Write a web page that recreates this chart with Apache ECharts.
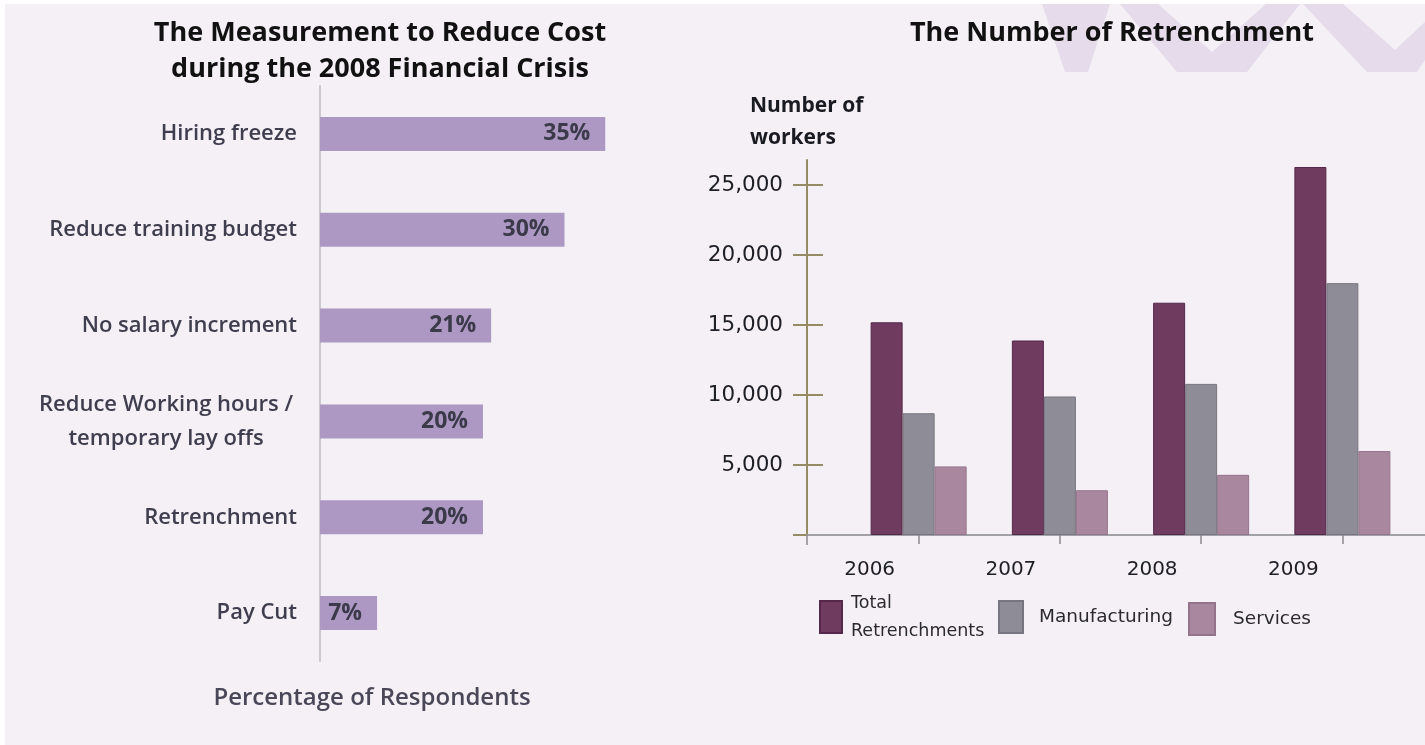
<!DOCTYPE html>
<html>
<head>
<meta charset="utf-8">
<script src="https://cdn.jsdelivr.net/npm/echarts@6/dist/echarts.min.js"></script>
<style>
  html, body { margin: 0; padding: 0; background: #ffffff; }
  #chart { width: 1425px; height: 745px; }
</style>
</head>
<body>
<div id="chart"></div>
<script>
// ---------- Data ----------
const measureCategories = ['Hiring freeze', 'Reduce training budget', 'No salary increment', 'Reduce Working hours /\ntemporary lay offs', 'Retrenchment', 'Pay Cut'];
const measureValues = [35, 30, 21, 20, 20, 7];

const years = ['2006', '2007', '2008', '2009'];
const seriesNames = ['Total Retrenchments', 'Manufacturing', 'Services'];
const totalRetrenchments = [15200, 13900, 16600, 26300];
const manufacturing = [8700, 9900, 10800, 18000];
const services = [4900, 3200, 4300, 6000];
const yTickValues = [0, 5000, 10000, 15000, 20000, 25000];
const yLabelValues = [5000, 10000, 15000, 20000, 25000];

// ---------- Styles ----------
const darkText = '#3f3e4f';
const sansLabel = '"Open Sans", "Noto Sans", sans-serif';
const tahoma = '"DejaVu Sans", sans-serif';
const olive = '#958c63';
const wmColor = '#e6dbeb';

const chart = echarts.init(document.getElementById('chart'), null, { renderer: 'canvas' });

function catLabel(v) {
  if (v.indexOf('\n') >= 0) {
    return v.split('\n').map(s => '{c|' + s + '}').join('\n');
  }
  return v;
}

const option = {
  backgroundColor: '#f4f0f6',
  animation: false,
  title: [
    {
      text: 'The Measurement to Reduce Cost\nduring the 2008 Financial Crisis',
      left: 375, top: 10, textAlign: 'center',
      textStyle: { fontFamily: sansLabel, fontWeight: 'bold', fontSize: 27, lineHeight: 36, color: '#111111' }
    },
    {
      text: 'The Number of Retrenchment',
      left: 1107, top: 10, textAlign: 'center',
      textStyle: { fontFamily: sansLabel, fontWeight: 'bold', fontSize: 27, lineHeight: 36, color: '#111111' }
    },
    {
      text: 'Percentage of Respondents',
      left: 367, top: 681, textAlign: 'center',
      textStyle: { fontFamily: sansLabel, fontWeight: 600, fontSize: 24, color: '#4a4858' }
    },
    {
      text: 'Number of\nworkers',
      left: 745, top: 85,
      textStyle: { fontFamily: sansLabel, fontWeight: 'bold', fontSize: 21, lineHeight: 32, color: '#1a1a22' }
    }
  ],
  graphic: [
    { type: 'rect', shape: { x: 0, y: 0, width: 1425, height: 4 }, style: { fill: '#ffffff' }, silent: true, z: -5 },
    { type: 'rect', shape: { x: 0, y: 0, width: 5, height: 745 }, style: { fill: '#ffffff' }, silent: true, z: -5 },
    { type: 'polygon', shape: { points: [[1042, 4], [1110, 4], [1088, 72], [1065, 72]] }, style: { fill: wmColor }, silent: true, z: -5 },
    { type: 'polygon', shape: { points: [[1120, 4], [1158, 4], [1212, 52], [1266, 4], [1300, 4], [1247, 72], [1177, 72]] }, style: { fill: wmColor }, silent: true, z: -5 },
    { type: 'polygon', shape: { points: [[1303, 4], [1343, 4], [1395, 50], [1425, 22], [1425, 60], [1417, 72], [1367, 72]] }, style: { fill: wmColor }, silent: true, z: -5 }
  ],
  legend: [
    {
      data: [seriesNames[0]], left: 814, top: 584, orient: 'horizontal',
      icon: 'rect', itemWidth: 22, itemHeight: 32,
      formatter: () => 'Total\nRetrenchments',
      textStyle: { fontFamily: tahoma, fontSize: 17.5, lineHeight: 28, color: '#2a2a30', padding: [0, 0, 0, 4] }
    },
    {
      data: [seriesNames[1]], left: 993, top: 595,
      icon: 'rect', itemWidth: 24, itemHeight: 32,
      textStyle: { fontFamily: tahoma, fontSize: 18.5, color: '#2a2a30', padding: [0, 0, 0, 11] }
    },
    {
      data: [seriesNames[2]], left: 1183, top: 597,
      icon: 'rect', itemWidth: 26, itemHeight: 32,
      textStyle: { fontFamily: tahoma, fontSize: 18.5, color: '#2a2a30', padding: [0, 0, 0, 13] }
    }
  ],
  grid: [
    { left: 320, width: 326, top: 86, bottom: 84, containLabel: false },
    { left: 848, right: 12, top: 160, bottom: 210, containLabel: false },
    { left: 807, right: 0, top: 160, bottom: 210, containLabel: false }
  ],
  xAxis: [
    { gridIndex: 0, type: 'value', min: 0, max: 40, show: false },
    {
      gridIndex: 1, type: 'category', data: years, boundaryGap: true,
      axisLine: { show: false },
      axisTick: { show: true, alignWithLabel: true, length: 9, lineStyle: { color: '#8a8890', width: 1.5 } },
      axisLabel: { margin: 25, fontFamily: tahoma, fontSize: 20, color: '#1e1e26', padding: [0, 98, 0, 0] },
      splitLine: { show: false }
    },
    {
      gridIndex: 2, type: 'value', min: 0, max: 1,
      axisLine: { show: true, lineStyle: { color: '#a3a1a8', width: 2 } },
      axisTick: { show: true, customValues: [0], length: 10, lineStyle: { color: '#8a8890', width: 1.5 } },
      axisLabel: { show: false },
      splitLine: { show: false }
    }
  ],
  yAxis: [
    {
      gridIndex: 0, type: 'category', data: measureCategories, inverse: true,
      axisLine: { show: true, lineStyle: { color: '#cbc8ce', width: 2 } },
      axisTick: { show: false },
      axisLabel: {
        margin: 23, fontFamily: sansLabel, fontWeight: 600, fontSize: 22, color: darkText,
        formatter: catLabel,
        rich: { c: { width: 262, align: 'center', lineHeight: 34, fontFamily: sansLabel, fontWeight: 600, fontSize: 22, color: darkText } }
      }
    },
    {
      gridIndex: 1, type: 'value', min: 0, max: 26800, offset: 41, position: 'left',
      axisLine: { show: true, lineStyle: { color: olive, width: 2 } },
      axisTick: { show: true, customValues: yTickValues, length: 14, lineStyle: { color: olive, width: 2 } },
      axisLabel: {
        customValues: yLabelValues, margin: 24, fontFamily: tahoma, fontSize: 21.5, color: '#1e1e26',
        formatter: v => Number(v).toLocaleString('en-US')
      },
      splitLine: { show: false }
    },
    {
      gridIndex: 1, type: 'value', min: 0, max: 26800, offset: 41, position: 'left',
      axisLine: { show: false },
      axisTick: { show: true, inside: true, customValues: yLabelValues, length: 16, lineStyle: { color: olive, width: 2 } },
      axisLabel: { show: false },
      splitLine: { show: false }
    },
    {
      gridIndex: 2, type: 'value', min: 0, max: 1, show: false
    }
  ],
  series: [
    {
      type: 'bar', xAxisIndex: 0, yAxisIndex: 0, data: measureValues, barWidth: 34,
      itemStyle: { color: '#ad98c4' },
      label: {
        show: true, position: 'insideRight', distance: 15, formatter: '{c}%',
        fontFamily: sansLabel, fontWeight: 'bold', fontSize: 23, color: '#3c3a4a'
      }
    },
    {
      name: seriesNames[0], type: 'bar', xAxisIndex: 1, yAxisIndex: 1, data: totalRetrenchments,
      barWidth: 32, barGap: '0%',
      itemStyle: { color: '#6f3b5f', borderColor: '#55274a', borderWidth: 1 }
    },
    {
      name: seriesNames[1], type: 'bar', xAxisIndex: 1, yAxisIndex: 1, data: manufacturing,
      barWidth: 32, barGap: '0%',
      itemStyle: { color: '#8e8c96', borderColor: '#77757f', borderWidth: 1 }
    },
    {
      name: seriesNames[2], type: 'bar', xAxisIndex: 1, yAxisIndex: 1, data: services,
      barWidth: 32, barGap: '0%',
      itemStyle: { color: '#a8879f', borderColor: '#94748c', borderWidth: 1 }
    }
  ]
};

chart.setOption(option);
</script>
</body>
</html>
